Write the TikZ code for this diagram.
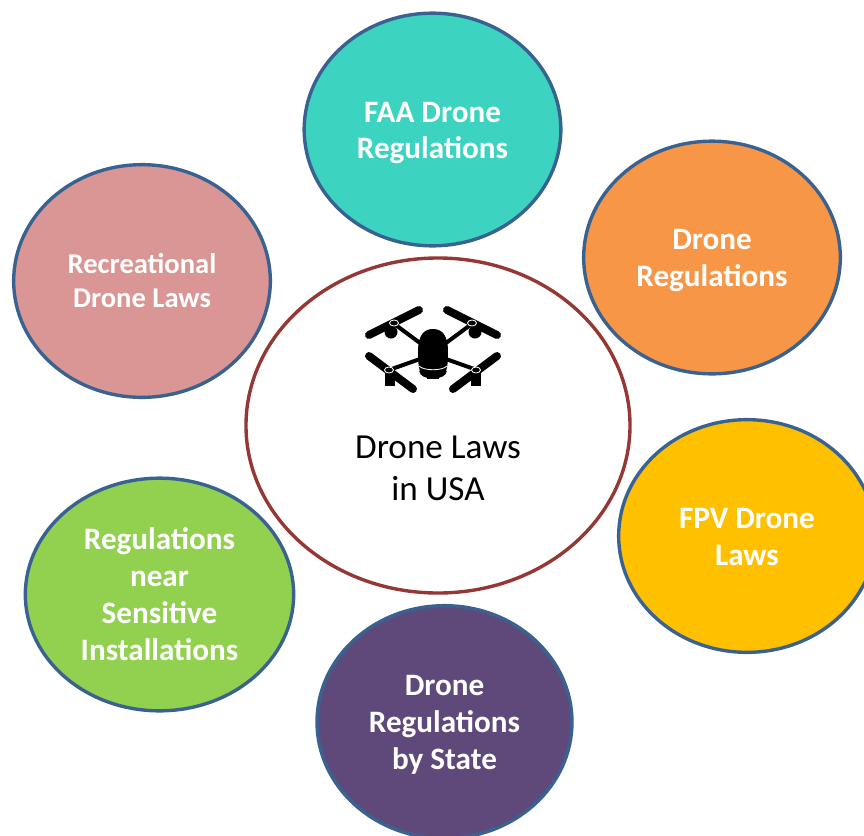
\documentclass[tikz,border=0pt]{standalone}
\usepackage{fontspec}
\setmainfont{Carlito}
\usetikzlibrary{shapes.geometric}
\definecolor{rimblue}{HTML}{3A6291}
\definecolor{rimred}{HTML}{953735}
\definecolor{faateal}{HTML}{3CD3C1}
\definecolor{regorange}{HTML}{F79646}
\definecolor{fpvyellow}{HTML}{FFC000}
\definecolor{statepurple}{HTML}{5F497A}
\definecolor{nearGreen}{HTML}{92D050}
\definecolor{recpink}{HTML}{D99694}
\newcommand{\lift}[1]{\rule{0pt}{#1}}
\tikzset{
  topic/.style = {ellipse, draw=rimblue, line width=2.9pt, fill=#1, text=white, align=center, inner sep=0pt, minimum height=6.98cm, minimum width=7.7cm, font=\fontsize{26.6}{31.5}\selectfont\bfseries},
  prop/.style = {line width=6.8pt, line cap=round, black},
  arm/.style = {line width=3.4pt, black}
}
\begin{document}
\begin{tikzpicture}[x=0.03cm, y=-0.03cm]
\useasboundingbox (0,0) rectangle (864,835);
\clip (0,0) rectangle (864,835);
% outer ellipses
\node [topic=faateal] (faa) at (432.5,129.5) {\lift{23.2pt}FAA Drone\\Regulations};
\node [topic=regorange] (regs) at (712,257.5) {\lift{22.3pt}Drone\\Regulations};
\node [topic=fpvyellow] (fpv) at (747,536) {\lift{18.9pt}FPV Drone\\Laws};
\node [topic=statepurple, minimum width=7.65cm] (state) at (444.5,722) {\lift{21.5pt}Drone\\Regulations\\by State};
\node [topic=nearGreen, minimum width=8.05cm] (near) at (159.5,594.5) {Regulations\\near\\Sensitive\\Installations};
\node [topic=recpink, font=\fontsize{24.4}{29}\selectfont\bfseries] (rec) at (142,281) {Recreational\\Drone Laws};
% centre
\node [ellipse, draw=rimred, line width=2.9pt, fill=white, inner sep=0pt, minimum width=11.52cm, minimum height=10.05cm] (hub) at (438,425.5) {};
\node [align=center, inner sep=0pt, font=\fontsize{30}{36}\selectfont] (title) at (438,468) {Drone Laws\\in USA};
% drone icon
\draw [arm] (393,323) -- (420,343);
\draw [arm] (473,323) -- (446,343);
\draw [arm] (389,370) -- (420,359);
\draw [arm] (477,370) -- (446,359);
\fill (418,352) .. controls (418,335) and (424,329) .. (433,329) .. controls (442,329) and (448,335) .. (448,352) .. controls (448,365) and (447,372) .. (443,376) -- (423,376) .. controls (419,372) and (418,365) .. (418,352) -- cycle;
\draw [white, line width=0.7pt] (419,366) .. controls (424,371) and (442,371) .. (447,366);
\draw [line width=1.4pt] (420,371) .. controls (421,380) and (445,380) .. (446,371);
\fill (427,374) rectangle (439,379);
\draw [prop] (369,335) -- (419,310);
\draw [prop] (447,310) -- (497,335);
\draw [prop] (369,356) -- (413,389);
\draw [prop] (497,356) -- (453,389);
\fill (391,332) circle (6.5);
\fill (475,332) circle (6.5);
\fill (385,372) rectangle (395,386);
\fill (471,372) rectangle (481,386);
\draw [white, line width=0.7pt] (394,323) ellipse (4.5 and 3);
\draw [white, line width=0.7pt] (472,323) ellipse (4.5 and 3);
\draw [white, line width=0.7pt] (389,370) ellipse (4.5 and 3);
\draw [white, line width=0.7pt] (476,370) ellipse (4.5 and 3);
\end{tikzpicture}
\end{document}
